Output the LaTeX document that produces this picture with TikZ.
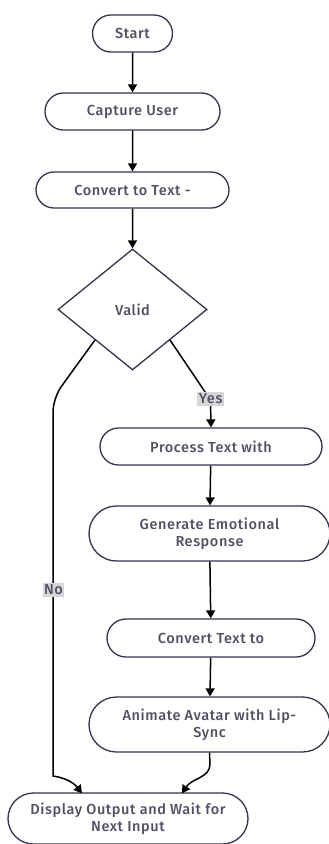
\documentclass[tikz,border=0pt]{standalone}
\usepackage{fontspec}
\setmainfont{Fira Sans}[UprightFont=* Medium, LetterSpace=4]
\usetikzlibrary{shapes.misc,shapes.geometric,arrows.meta,calc}
\definecolor{outline}{HTML}{34344E}
\definecolor{labeltext}{HTML}{505064}
\definecolor{tagfill}{HTML}{D6D6D6}
\tikzset{
  stadium/.style={rounded rectangle, draw=outline, line width=1.3pt, fill=white,
    inner sep=0pt, text=labeltext, align=center,
    font=\fontsize{14.5}{17}\selectfont},
  decision/.style={diamond, draw=outline, line width=1.3pt, fill=white,
    inner sep=0pt, text=labeltext, font=\fontsize{14.5}{17}\selectfont},
  flow/.style={draw=black, line width=1.5pt,
    -{Triangle[width=9pt,length=8pt]}},
  tag/.style={fill=tagfill, inner sep=1.5pt, text=labeltext,
    font=\fontsize{14.5}{15}\selectfont}
}
\begin{document}
\begin{tikzpicture}[x=1pt,y=-1pt]
\useasboundingbox[fill=white] (0,0) rectangle (329,844);

% process nodes
\node[stadium, minimum width=80pt,  minimum height=37pt] (start)   at (132.5,33.5)  {Start};
\node[stadium, minimum width=175pt, minimum height=37pt] (capture) at (132.5,111.5) {Capture User};
\node[stadium, minimum width=193pt, minimum height=36pt] (convert) at (132.5,190)   {Convert to Text -};
\node[decision, minimum width=149pt, minimum height=121pt] (valid) at (132.5,309.5) {Valid};
\node[stadium, minimum width=222pt, minimum height=37pt] (process) at (211,446.5)   {Process Text with};
\node[stadium, minimum width=241pt, minimum height=55pt] (emotion) at (209.5,533.5) {Generate Emotional\\Response};
\node[stadium, minimum width=208pt, minimum height=38pt] (speech)  at (211,638)     {Convert Text to};
\node[stadium, minimum width=241pt, minimum height=55pt] (animate) at (209.5,724.5) {Animate Avatar with Lip-\\Sync};
\node[stadium, minimum width=240pt, minimum height=51pt] (display) at (128,818.5)   {Display Output and Wait for\\Next Input};

% straight flow
\draw[flow] (start) -- (capture);
\draw[flow] (capture) -- (convert);
\draw[flow] (convert) -- (valid);
\draw[flow] (process) -- (emotion);
\draw[flow] (emotion) -- (speech);
\draw[flow] (speech) -- (animate);

% yes branch
\coordinate (yesbend) at (210.5,400);
\draw[flow] (valid.south east) -- (yesbend) -- (process.north);
\node[tag] (yes) at (210.7,399) {Yes};

% no branch
\coordinate (noin) at ($(display.north)+(-46,1)$);
\draw[flow, rounded corners=14pt] (valid.south west) -- (53,398) -- (53,762)
  .. controls (53,776) and (70,778) .. (noin);
\node[tag] (no) at (53.5,590) {No};

% animation into display
\coordinate (animin) at ($(display.north)+(54,1)$);
\draw[flow] (animate.south) -- (210,764) .. controls (210,778) and (192,778) .. (animin);
\end{tikzpicture}
\end{document}
